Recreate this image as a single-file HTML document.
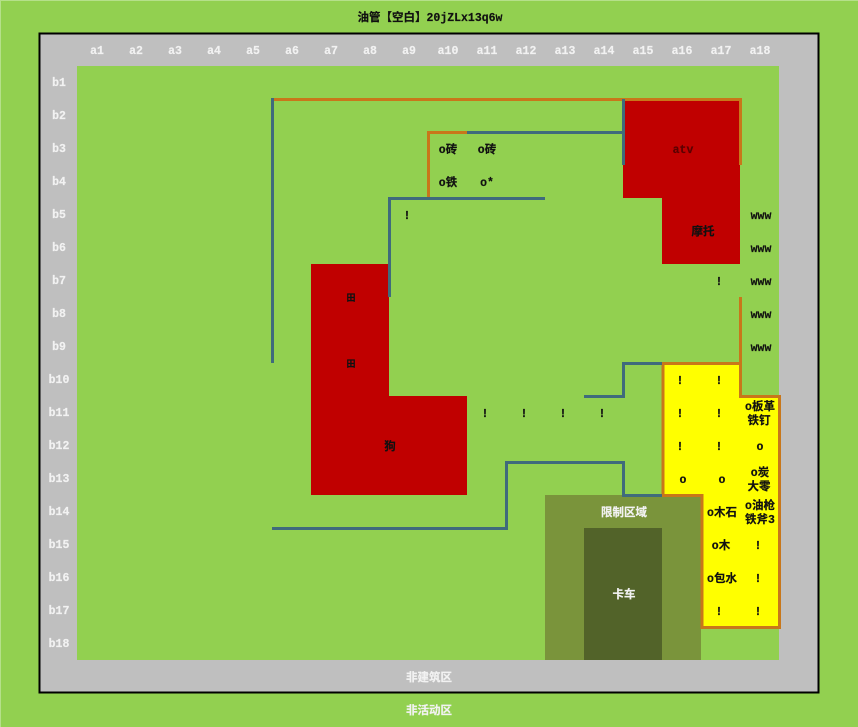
<!DOCTYPE html>
<html><head><meta charset="utf-8">
<style>
html,body{margin:0;padding:0;background:#92d050;width:858px;height:727px;overflow:hidden}
svg{display:block}
text{font-family:"Liberation Mono","Noto Sans CJK SC",sans-serif;font-weight:bold;font-size:11.5px;text-anchor:middle;stroke-width:.2px}
.h text{fill:#f2f2f2;stroke:#f2f2f2}
.k text{fill:#111;stroke:#111}
</style></head><body>
<svg width="858" height="727" viewBox="0 0 858 727" xmlns="http://www.w3.org/2000/svg">
<rect x="0" y="0" width="858" height="727" fill="#92d050"/>
<path d="M.5 727V.5H858" fill="none" stroke="#b5e08a" stroke-width="1"/>
<rect x="39.5" y="33.5" width="779" height="659" fill="#bfbfbf" stroke="#000" stroke-width="2"/>
<rect x="77" y="66" width="702" height="594" fill="#92d050"/>
<rect x="545" y="495" width="156" height="165" fill="#7a943b"/>
<rect x="584" y="528" width="78" height="132" fill="#526329"/>
<polygon points="623,99 740,99 740,264 662,264 662,198 623,198" fill="#c00000"/>
<polygon points="311,264 389,264 389,396 467,396 467,495 311,495" fill="#c00000"/>
<polygon points="663,363.5 740.5,363.5 740.5,396.5 779.5,396.5 779.5,627.5 702,627.5 702,495.5 663,495.5" fill="#ffff00" stroke="#c8771a" stroke-width="3"/>
<g fill="none" stroke="#c8771a" stroke-width="3">
<path d="M272 99.5H740.5V165"/>
<path d="M428.5 198V132.5H467"/>
<path d="M740.5 297V363"/>
</g>
<g fill="none" stroke="#3f6b7c" stroke-width="3">
<path d="M272.5 98V363"/>
<path d="M623.5 99V165"/>
<path d="M467 132.5H623"/>
<path d="M545 198.5H389.5V297"/>
<path d="M584 396.5H623.5V363.5H662"/>
<path d="M272 528.5H506.5V462.5H623.5V495.5H662"/>
</g>
<g class="h">
<text x="97" y="54">a1</text><text x="136" y="54">a2</text><text x="175" y="54">a3</text><text x="214" y="54">a4</text><text x="253" y="54">a5</text><text x="292" y="54">a6</text><text x="331" y="54">a7</text><text x="370" y="54">a8</text><text x="409" y="54">a9</text><text x="448" y="54">a10</text><text x="487" y="54">a11</text><text x="526" y="54">a12</text><text x="565" y="54">a13</text><text x="604" y="54">a14</text><text x="643" y="54">a15</text><text x="682" y="54">a16</text><text x="721" y="54">a17</text><text x="760" y="54">a18</text>
<text x="59" y="86">b1</text><text x="59" y="119">b2</text><text x="59" y="152">b3</text><text x="59" y="185">b4</text><text x="59" y="218">b5</text><text x="59" y="251">b6</text><text x="59" y="284">b7</text><text x="59" y="317">b8</text><text x="59" y="350">b9</text><text x="59" y="383">b10</text><text x="59" y="416">b11</text><text x="59" y="449">b12</text><text x="59" y="482">b13</text><text x="59" y="515">b14</text><text x="59" y="548">b15</text><text x="59" y="581">b16</text><text x="59" y="614">b17</text><text x="59" y="647">b18</text>
<text x="429" y="681">非建筑区</text>
<text x="429" y="714">非活动区</text>
<text x="624" y="516">限制区域</text>
<text x="624" y="598">卡车</text>
</g>
<g class="k">
<text x="430" y="21">油管【空白】20jZLx13q6w</text>
<text x="448" y="153">o砖</text><text x="487" y="153">o砖</text>
<text x="448" y="186">o铁</text><text x="487" y="186">o*</text>
<text x="407" y="219">!</text>
<text x="683" y="153" style="fill:#5a0000;stroke:#5a0000">atv</text>
<text x="703" y="235">摩托</text>
<text x="761" y="219">www</text><text x="761" y="252">www</text><text x="761" y="285">www</text><text x="761" y="318">www</text><text x="761" y="351">www</text>
<text x="719" y="285">!</text>
<text x="351" y="301" style="font-size:9px">田</text><text x="351" y="367" style="font-size:9px">田</text><text x="390" y="450">狗</text>
<text x="485" y="417">!</text><text x="524" y="417">!</text><text x="563" y="417">!</text><text x="602" y="417">!</text>
<text x="680" y="384">!</text><text x="719" y="384">!</text>
<text x="680" y="417">!</text><text x="719" y="417">!</text>
<text x="680" y="450">!</text><text x="719" y="450">!</text>
<text x="683" y="483">o</text><text x="722" y="483">o</text>
<text x="760" y="410">o板革</text><text x="759" y="424">铁钉</text>
<text x="760" y="450">o</text>
<text x="760" y="476">o炭</text><text x="759" y="490">大零</text>
<text x="760" y="509">o油枪</text><text x="760" y="523">铁斧3</text>
<text x="722" y="516">o木石</text>
<text x="721" y="549">o木</text><text x="758" y="549">!</text>
<text x="722" y="582">o包水</text><text x="758" y="582">!</text>
<text x="719" y="615">!</text><text x="758" y="615">!</text>
</g>
</svg>
</body></html>
